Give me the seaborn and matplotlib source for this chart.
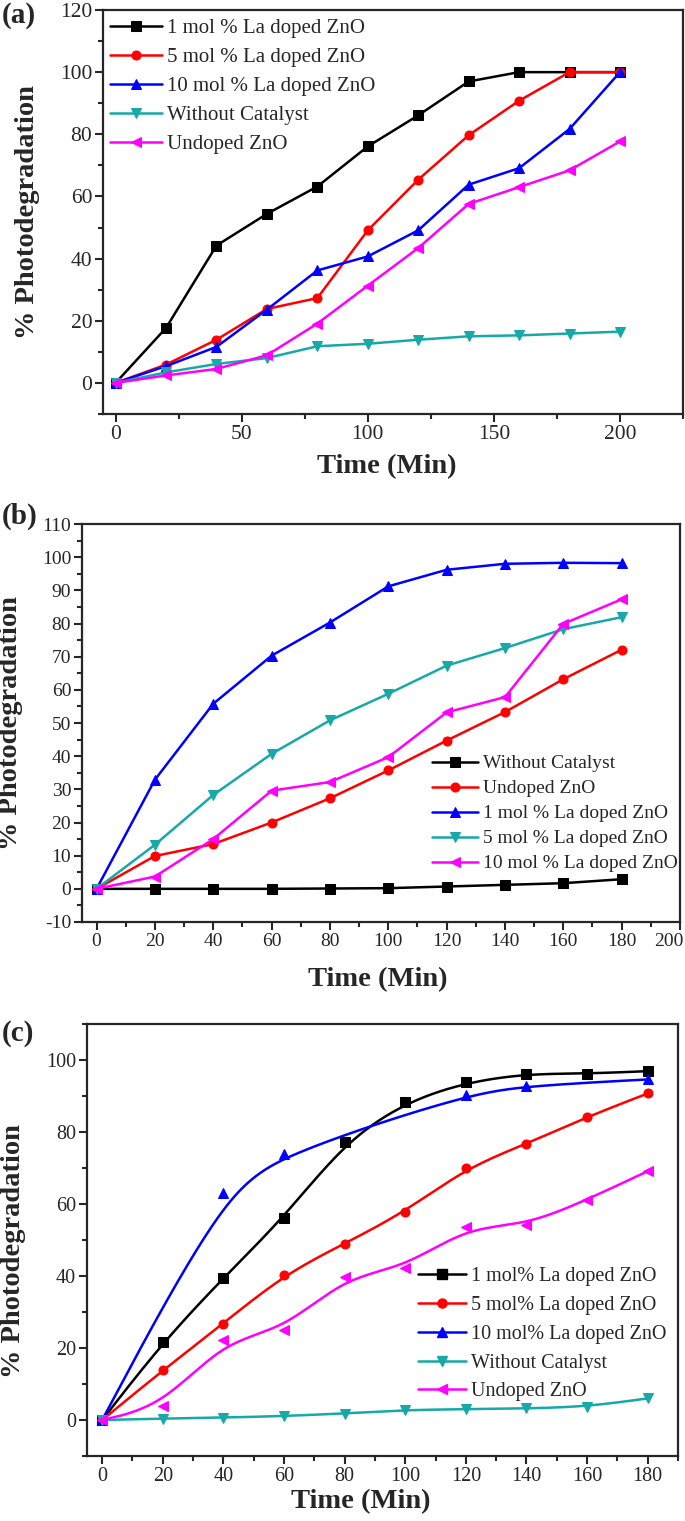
import matplotlib
matplotlib.use('Agg')
import matplotlib.pyplot as plt
from matplotlib.lines import Line2D
from matplotlib.ticker import MultipleLocator, FixedLocator
from matplotlib.transforms import ScaledTranslation
import seaborn as sns
import numpy as np

# ---- data ----
time_a = [0, 20, 40, 60, 80, 100, 120, 140, 160, 180, 200]
a_1mol = [0, 17.7, 44.2, 54.4, 63.2, 76.1, 86.1, 97.0, 100, 100, 100]
a_5mol = [0, 5.9, 13.9, 23.8, 27.3, 49.1, 65.4, 79.7, 90.8, 100, 100]
a_10mol = [0, 5.4, 11.6, 23.6, 36.2, 40.7, 49.1, 63.8, 69.1, 81.7, 100]
a_nocat = [0, 3.4, 6.1, 8.0, 11.8, 12.6, 13.9, 15.0, 15.3, 15.9, 16.5]
a_undoped = [0, 2.4, 4.5, 8.9, 19.1, 31.3, 43.4, 57.6, 63.0, 68.4, 77.7]

time_b = [0, 20, 40, 60, 80, 100, 120, 140, 160, 180]
b_nocat = [0, 0, 0, 0, 0.1, 0.2, 0.7, 1.2, 1.7, 2.9]
b_undoped = [0, 9.9, 13.5, 20.0, 27.3, 35.7, 44.7, 53.3, 63.2, 72.1]
b_1mol = [0, 32.9, 55.8, 70.3, 80.3, 91.2, 96.2, 98.0, 98.3, 98.2]
b_5mol = [0, 13.3, 28.3, 40.7, 50.8, 58.8, 67.3, 72.6, 78.3, 81.9]
b_10mol = [0, 3.7, 15.0, 29.6, 32.2, 39.7, 53.2, 57.8, 79.9, 87.3]

time_c = [0, 20, 40, 60, 80, 100, 120, 140, 160, 180]
c_1mol = [0, 21.6, 39.5, 56.2, 77.2, 88.3, 93.8, 96.2, 96.2, 96.9]
c_5mol = [0, 13.8, 26.8, 40.4, 49.0, 57.8, 70.0, 76.7, 84.2, 90.7]
time_c_10mol = [0, 40, 60, 120, 140, 180]
c_10mol = [0, 63.1, 73.9, 90.4, 92.8, 94.6]
c_nocat = [0, 0.4, 0.65, 1.1, 1.8, 2.8, 3.0, 3.2, 3.7, 6.0]
c_undoped = [0, 3.9, 22.1, 25.0, 39.8, 42.3, 53.6, 54.1, 61.2, 69.1]

BLACK, RED, BLUE, CYAN, MAGENTA = 'black', '#FF0000', '#0000FF', '#17A8A8', '#FF00FF'

sns.set_style('ticks')
plt.rcParams['font.family'] = ['Liberation Serif', 'DejaVu Serif']
plt.rcParams['axes.unicode_minus'] = False
plt.rcParams['axes.linewidth'] = 1.6
for ax_name in ('xtick', 'ytick'):
    plt.rcParams[ax_name + '.major.width'] = 1.5
    plt.rcParams[ax_name + '.minor.width'] = 1.5
    plt.rcParams[ax_name + '.major.size'] = 5.8
    plt.rcParams[ax_name + '.minor.size'] = 3.6
    plt.rcParams[ax_name + '.direction'] = 'out'


def bspline(xs, ys, n=40):
    # uniform cubic B-spline with clamped ends (smooth connector like Origin)
    px = np.r_[[xs[0]] * 2, xs, [xs[-1]] * 2].astype(float)
    py = np.r_[[ys[0]] * 2, ys, [ys[-1]] * 2].astype(float)
    t = np.linspace(0, 1, n)
    b0 = (1 - t) ** 3 / 6
    b1 = (3 * t ** 3 - 6 * t ** 2 + 4) / 6
    b2 = (-3 * t ** 3 + 3 * t ** 2 + 3 * t + 1) / 6
    b3 = t ** 3 / 6
    cx, cy = [], []
    for i in range(len(px) - 3):
        cx.append(b0 * px[i] + b1 * px[i + 1] + b2 * px[i + 2] + b3 * px[i + 3])
        cy.append(b0 * py[i] + b1 * py[i + 1] + b2 * py[i + 2] + b3 * py[i + 3])
    return np.concatenate(cx), np.concatenate(cy)


def style_axes(ax, fs):
    ax.tick_params(which='both', top=False, right=False, labelsize=fs, pad=2)
    for sp in ax.spines.values():
        sp.set_visible(True)
        sp.set_linewidth(1.6)


fig = plt.figure(figsize=(6.85, 15.21), dpi=100)
W, H = 685, 1521


def place(l, t, r, b):
    return [l / W, 1 - b / H, (r - l) / W, (b - t) / H]


lw, ms = 1.8, 6.5

# ---------------- (a) ----------------
ax1 = fig.add_axes(place(103, 10, 683, 414))
series_a = [(a_1mol, BLACK, 's', '1 mol % La doped ZnO'),
            (a_5mol, RED, 'o', '5 mol % La doped ZnO'),
            (a_10mol, BLUE, '^', '10 mol % La doped ZnO'),
            (a_nocat, CYAN, 'v', 'Without Catalyst'),
            (a_undoped, MAGENTA, '<', 'Undoped ZnO')]
for vals, col, mk, lab in series_a:
    sns.lineplot(x=time_a, y=vals, color=col, marker=mk, markersize=ms, markeredgecolor=col,
                 linewidth=lw, label=lab, ax=ax1)
ax1.set_xlim(-5, 225)
ax1.set_ylim(-10, 120)
ax1.xaxis.set_major_locator(FixedLocator([0, 50, 100, 150, 200]))
ax1.xaxis.set_minor_locator(FixedLocator([25, 75, 125, 175, 225]))
ax1.yaxis.set_major_locator(FixedLocator([0, 20, 40, 60, 80, 100, 120]))
ax1.yaxis.set_minor_locator(FixedLocator([-10, 10, 30, 50, 70, 90, 110]))
style_axes(ax1, 15.5)
ax1.legend(loc='upper left', bbox_to_anchor=(0.012, 0.978), frameon=False, fontsize=15,
           handlelength=2.5, handletextpad=0.25, labelspacing=0.45, borderpad=0, borderaxespad=0)
ax1.set_xlabel('Time (Min)', fontsize=20.5, fontweight='bold', va='center')
ax1.set_ylabel('% Photodegradation', fontsize=20.5, fontweight='bold', va='center')
ax1.xaxis.set_label_coords(0.49, -0.131)
ax1.yaxis.set_label_coords(-0.131, 0.5)
fig.text(2 / W, 1 - 2 / H, '(a)', fontsize=21, fontweight='bold', ha='left', va='top')

# ---------------- (b) ----------------
ax2 = fig.add_axes(place(82, 524, 680, 922))
series_b = [(b_nocat, BLACK, 's', 'Without Catalyst'),
            (b_undoped, RED, 'o', 'Undoped ZnO'),
            (b_1mol, BLUE, '^', '1 mol % La doped ZnO'),
            (b_5mol, CYAN, 'v', '5 mol % La doped ZnO'),
            (b_10mol, MAGENTA, '<', '10 mol % La doped ZnO')]
for vals, col, mk, lab in series_b:
    sns.lineplot(x=time_b, y=vals, color=col, marker=mk, markersize=ms, markeredgecolor=col,
                 linewidth=lw, label=lab, ax=ax2)
ax2.set_xlim(-5, 200)
ax2.set_ylim(-10, 110)
ax2.xaxis.set_major_locator(MultipleLocator(20))
ax2.xaxis.set_minor_locator(MultipleLocator(10))
ax2.yaxis.set_major_locator(MultipleLocator(10))
ax2.yaxis.set_minor_locator(MultipleLocator(5))
style_axes(ax2, 14)
ax2.legend(loc='upper left', bbox_to_anchor=(0.585, 0.42), frameon=False, fontsize=14,
           handlelength=2.4, handletextpad=0.25, labelspacing=0.38, borderpad=0, borderaxespad=0)
ax2.set_xlabel('Time (Min)', fontsize=20.5, fontweight='bold', va='center')
ax2.set_ylabel('% Photodegradation', fontsize=20.5, fontweight='bold', va='center')
ax2.xaxis.set_label_coords(0.495, -0.146)
ax2.yaxis.set_label_coords(-0.119, 0.5)
fig.text(2 / W, 1 - 503 / H, '(b)', fontsize=21, fontweight='bold', ha='left', va='top')
# keep the last x label ("200") inside the picture
fig.canvas.draw()
last = [t for t in ax2.get_xticklabels() if t.get_text() == '200']
for t in last:
    t.set_horizontalalignment('right')
    t.set_transform(t.get_transform() + ScaledTranslation(4 / 100, 0, fig.dpi_scale_trans))

# ---------------- (c) ----------------
ax3 = fig.add_axes(place(87, 1024, 678, 1456))
series_c = [(time_c, c_1mol, BLACK, 's', '1 mol% La doped ZnO'),
            (time_c, c_5mol, RED, 'o', '5 mol% La doped ZnO'),
            (time_c_10mol, c_10mol, BLUE, '^', '10 mol% La doped ZnO'),
            (time_c, c_nocat, CYAN, 'v', 'Without Catalyst'),
            (time_c, c_undoped, MAGENTA, '<', 'Undoped ZnO')]
handles = []
for xs, vals, col, mk, lab in series_c:
    sx, sy = bspline(xs, vals)
    sns.lineplot(x=sx, y=sy, sort=False, estimator=None, color=col, linewidth=lw, ax=ax3)
    sns.lineplot(x=xs, y=vals, color=col, marker=mk, markersize=ms, markeredgecolor=col,
                 linestyle='', ax=ax3)
    handles.append(Line2D([], [], color=col, marker=mk, markersize=ms, linewidth=lw, label=lab))
ax3.set_xlim(-5, 190)
ax3.set_ylim(-10, 110)
ax3.xaxis.set_major_locator(FixedLocator(list(range(0, 181, 20))))
ax3.xaxis.set_minor_locator(FixedLocator(list(range(10, 191, 20))))
ax3.yaxis.set_major_locator(FixedLocator([0, 20, 40, 60, 80, 100]))
ax3.yaxis.set_minor_locator(FixedLocator([-10, 10, 30, 50, 70, 90, 110]))
style_axes(ax3, 14.5)
ax3.legend(handles=handles, loc='upper left', bbox_to_anchor=(0.56, 0.437), frameon=False,
           fontsize=14.5, handlelength=2.4, handletextpad=0.25, labelspacing=0.48,
           borderpad=0, borderaxespad=0)
ax3.set_xlabel('Time (Min)', fontsize=20.5, fontweight='bold', va='center')
ax3.set_ylabel('% Photodegradation', fontsize=20.5, fontweight='bold', va='center')
ax3.xaxis.set_label_coords(0.464, -0.106)
ax3.yaxis.set_label_coords(-0.125, 0.475)
fig.text(2 / W, 1 - 1020 / H, '(c)', fontsize=21, fontweight='bold', ha='left', va='top')

fig.savefig('out.png', dpi=100)
